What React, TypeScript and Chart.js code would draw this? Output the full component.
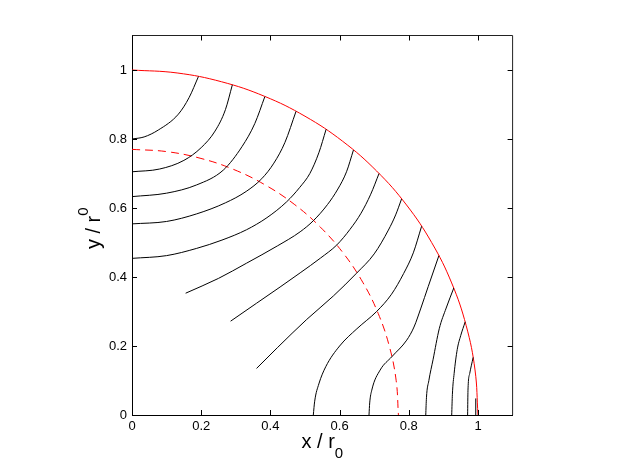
import React, { useEffect, useRef } from "react";
import { Chart, registerables } from "chart.js";

Chart.register(...registerables);

// axis ticks
const xTickValues = [0, 0.2, 0.4, 0.6, 0.8, 1];
const yTickValues = [0, 0.2, 0.4, 0.6, 0.8, 1];
const xTitle = "x / r";
const yTitle = "y / r";
const titleSub = "0";

// outer boundary r = 1 (red solid)
const boundary: number[][] = [
  [0, 1], [0.1305, 0.9914], [0.2588, 0.9659], [0.3827, 0.9239], [0.5, 0.866],
  [0.6088, 0.7934], [0.7071, 0.7071], [0.7934, 0.6088], [0.866, 0.5],
  [0.9239, 0.3827], [0.9659, 0.2588], [0.9914, 0.1305], [1, 0],
];

// inner boundary r = 0.77 (red dashed)
const innerBoundary: number[][] = [
  [0, 0.77], [0.1005, 0.7634], [0.1993, 0.7437], [0.2947, 0.7114], [0.385, 0.6668],
  [0.4688, 0.6109], [0.5445, 0.5445], [0.6109, 0.4688], [0.6668, 0.385],
  [0.7114, 0.2947], [0.7437, 0.1993], [0.7634, 0.1005], [0.77, 0],
];

// black field lines
const curve01 = [[0, 0.8], [0.035, 0.806], [0.076, 0.826], [0.134, 0.872], [0.165, 0.92], [0.192, 0.981]];
const curve02 = [[0, 0.705], [0.08, 0.713], [0.15, 0.738], [0.2, 0.775], [0.24, 0.823], [0.27, 0.885], [0.29, 0.957]];
const curve03 = [[0, 0.633], [0.1, 0.643], [0.187, 0.667], [0.264, 0.71], [0.318, 0.778], [0.355, 0.845], [0.384, 0.923]];
const curve04 = [[0, 0.554], [0.1, 0.561], [0.187, 0.583], [0.27, 0.615], [0.33, 0.648], [0.375, 0.685], [0.41, 0.73], [0.442, 0.79], [0.474, 0.88]];
const curve05 = [[0, 0.454], [0.1, 0.462], [0.187, 0.483], [0.26, 0.507], [0.331, 0.537], [0.39, 0.572], [0.447, 0.618], [0.485, 0.66], [0.514, 0.7], [0.54, 0.76], [0.561, 0.828]];
const curve06 = [[0.155, 0.353], [0.25, 0.396], [0.331, 0.44], [0.42, 0.49], [0.486, 0.531], [0.524, 0.563], [0.565, 0.61], [0.595, 0.655], [0.62, 0.705], [0.64, 0.768]];
const curve07 = [[0.285, 0.272], [0.36, 0.324], [0.428, 0.371], [0.486, 0.412], [0.545, 0.455], [0.592, 0.493], [0.63, 0.538], [0.662, 0.585], [0.69, 0.64], [0.714, 0.7]];
const curve08 = [[0.36, 0.135], [0.42, 0.195], [0.505, 0.277], [0.582, 0.345], [0.649, 0.411], [0.7, 0.467], [0.741, 0.536], [0.762, 0.58], [0.779, 0.626]];
const curve09 = [[0.524, 0], [0.528, 0.04], [0.54, 0.09], [0.56, 0.14], [0.6, 0.2], [0.65, 0.25], [0.707, 0.3], [0.75, 0.35], [0.785, 0.41], [0.813, 0.47], [0.837, 0.547]];
const curve10 = [[0.685, 0], [0.687, 0.035], [0.693, 0.072], [0.717, 0.13], [0.751, 0.169], [0.794, 0.217], [0.815, 0.255], [0.835, 0.31], [0.856, 0.372], [0.887, 0.462]];
const curve11 = [[0.849, 0], [0.851, 0.05], [0.858, 0.1], [0.87, 0.16], [0.888, 0.25], [0.908, 0.31], [0.93, 0.368]];
const curve12 = [[0.924, 0], [0.926, 0.06], [0.931, 0.12], [0.94, 0.19], [0.95, 0.23], [0.963, 0.27]];
const curve13 = [[0.97, 0], [0.971, 0.07], [0.976, 0.12], [0.986, 0.167]];
const curve14 = [[0.9935, 0], [0.9935, 0.048]];

const smoothLines = [curve01, curve02, curve03, curve04, curve05, curve06, curve07, curve08, curve09, curve10, curve11, curve12, curve13];
const straightLines = [curve14];

const FONT = "'Liberation Sans', Arial, Helvetica, sans-serif";

const toPts = (arr: number[][]) => arr.map(([x, y]) => ({ x, y }));

const framePlugin = {
  id: "frame",
  afterDraw(chart: any) {
    const { ctx, chartArea, scales } = chart;
    const { left, right, top, bottom } = chartArea;
    const xs = scales.x;
    const ys = scales.y;
    ctx.save();
    // top & right box lines
    ctx.strokeStyle = "#222";
    ctx.lineWidth = 1;
    ctx.beginPath();
    ctx.moveTo(left, top);
    ctx.lineTo(right, top);
    ctx.lineTo(right, bottom);
    ctx.stroke();
    // inward ticks
    ctx.strokeStyle = "#000";
    const len = 5;
    ctx.beginPath();
    xTickValues.forEach((v) => {
      const px = Math.round(xs.getPixelForValue(v)) + 0.5;
      ctx.moveTo(px, bottom);
      ctx.lineTo(px, bottom - len);
      ctx.moveTo(px, top);
      ctx.lineTo(px, top + len);
    });
    yTickValues.forEach((v) => {
      const py = Math.round(ys.getPixelForValue(v)) + 0.5;
      ctx.moveTo(left, py);
      ctx.lineTo(left + len, py);
      ctx.moveTo(right, py);
      ctx.lineTo(right - len, py);
    });
    ctx.stroke();

    // axis titles with subscript
    ctx.fillStyle = "#000";
    ctx.textBaseline = "alphabetic";
    ctx.textAlign = "left";
    const mainFont = `20px ${FONT}`;
    const subFont = `15px ${FONT}`;
    ctx.font = mainFont;
    const wMainX = ctx.measureText(xTitle).width;
    ctx.font = subFont;
    const wSub = ctx.measureText(titleSub).width;
    const cx = (left + right) / 2;
    const startX = cx - (wMainX + wSub) / 2;
    ctx.font = mainFont;
    ctx.fillText(xTitle, startX, 448);
    ctx.font = subFont;
    ctx.fillText(titleSub, startX + wMainX, 458);

    ctx.font = mainFont;
    const wMainY = ctx.measureText(yTitle).width;
    const cy = (top + bottom) / 2 + 3;
    ctx.translate(100, cy + (wMainY + wSub) / 2);
    ctx.rotate(-Math.PI / 2);
    ctx.fillText(yTitle, 0, 0);
    ctx.font = subFont;
    ctx.fillText(titleSub, wMainY, -12);
    ctx.restore();
  },
};

export default function App() {
  const ref = useRef<HTMLCanvasElement | null>(null);
  useEffect(() => {
    if (!ref.current) return;
    const datasets: any[] = [];
    smoothLines.forEach((c) => {
      datasets.push({
        data: toPts(c),
        showLine: true,
        borderColor: "#000",
        borderWidth: 1,
        pointRadius: 0,
        cubicInterpolationMode: "monotone",
      });
    });
    straightLines.forEach((c) => {
      datasets.push({
        data: toPts(c),
        showLine: true,
        borderColor: "#000",
        borderWidth: 1,
        pointRadius: 0,
        tension: 0,
      });
    });
    datasets.push({
      data: toPts(innerBoundary),
      showLine: true,
      borderColor: "#ff0000",
      borderWidth: 1,
      borderDash: [8, 5],
      pointRadius: 0,
      tension: 0.4,
    });
    datasets.push({
      data: toPts(boundary),
      showLine: true,
      borderColor: "#ff0000",
      borderWidth: 1,
      pointRadius: 0,
      tension: 0.4,
    });
    const chart = new Chart(ref.current, {
      type: "scatter",
      data: { datasets },
      plugins: [framePlugin],
      options: {
        animation: false,
        responsive: false,
        events: [],
        layout: { padding: { left: 72, right: 109.4, top: 35.5, bottom: 3 } },
        plugins: { legend: { display: false }, tooltip: { enabled: false } },
        scales: {
          x: {
            type: "linear",
            min: 0,
            max: 1.1,
            afterBuildTicks: (s: any) => {
              s.ticks = xTickValues.map((v) => ({ value: v }));
            },
            afterFit: (s: any) => {
              s.height = 50;
            },
            ticks: {
              color: "#000",
              font: { family: FONT, size: 13 },
              padding: 4,
              maxRotation: 0,
              autoSkip: false,
              callback: (v: any) => String(Math.round(Number(v) * 10) / 10),
            },
            grid: { display: false, drawTicks: false },
            border: { display: true, color: "#000", width: 1 },
          },
          y: {
            type: "linear",
            min: 0,
            max: 1.1,
            afterBuildTicks: (s: any) => {
              s.ticks = yTickValues.map((v) => ({ value: v }));
            },
            afterFit: (s: any) => {
              s.width = 60;
            },
            ticks: {
              color: "#000",
              font: { family: FONT, size: 13 },
              padding: 5,
              autoSkip: false,
              callback: (v: any) => String(Math.round(Number(v) * 10) / 10),
            },
            grid: { display: false, drawTicks: false },
            border: { display: true, color: "#000", width: 1 },
          },
        },
      },
    });
    return () => chart.destroy();
  }, []);
  return (
    <div style={{ position: "absolute", left: 0, top: 0, width: 622, height: 468, background: "#fff" }}>
      <canvas ref={ref} width={622} height={468} style={{ display: "block", width: 622, height: 468 }} />
    </div>
  );
}
